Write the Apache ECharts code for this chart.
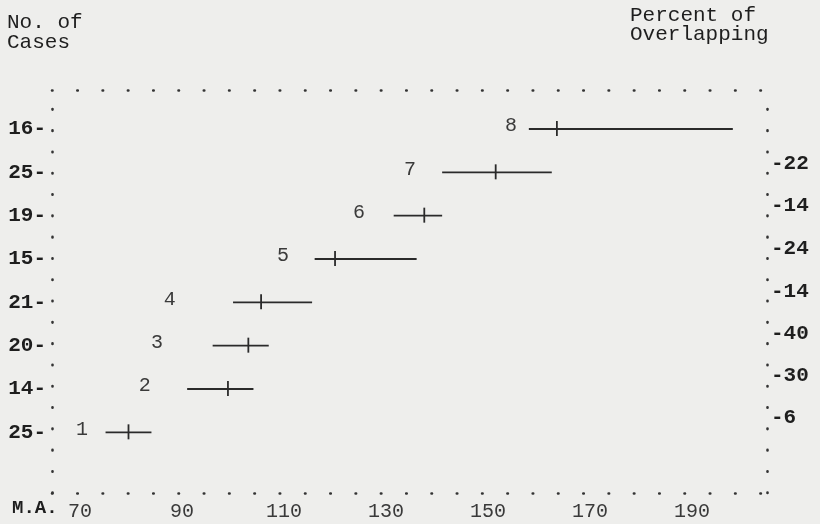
<!DOCTYPE html>
<html>
<head>
<meta charset="utf-8">
<title>Mental age ranges by grade</title>
<script src="https://cdn.jsdelivr.net/npm/echarts@6/dist/echarts.min.js"></script>
<style>
  html, body { margin: 0; padding: 0; background: #eeeeec; }
  #chart { width: 820px; height: 524px; }
</style>
</head>
<body>
<div id="chart"></div>
<script>
// grade rows, bottom to top
const grades = [1, 2, 3, 4, 5, 6, 7, 8];
const cases = [25, 14, 20, 21, 15, 19, 25, 16];
// mental age range (low, high) and mean per grade
const lowMA = [75, 91, 96, 100, 116, 131.5, 141, 158];
const highMA = [84, 104, 107, 115.5, 136, 141, 162.5, 198];
const meanMA = [79.5, 99, 103, 105.5, 120, 137.5, 151.5, 163.5];
// where the typed grade number sits (in M.A. units)
const gradeLabelMA = [70.4, 82.7, 85.1, 87.6, 109.8, 124.7, 134.7, 154.5];
// percent of overlapping between grade i and i+1
const overlap = [6, 30, 40, 14, 24, 14, 22];
const overlapAt = [1.33, 2.31, 3.28, 4.24, 5.24, 6.23, 7.2];
const maTicks = [70, 90, 110, 130, 150, 170, 190];

const font = '"Liberation Mono", "DejaVu Sans Mono", monospace';
const ink = '#1e1e1e';

const chart = echarts.init(document.getElementById('chart'));

const dotsH = { color: '#333', width: 2.6, type: [0.5, 24.8], cap: 'round' };
const dotsV = { color: '#333', width: 2.6, type: [0.5, 20.8], cap: 'round' };

const rows = grades.map((g, i) => [g, lowMA[i], highMA[i], meanMA[i], gradeLabelMA[i]]);

const option = {
  backgroundColor: '#eeeeec',
  animation: false,
  grid: { left: 52, right: 53, top: 90, bottom: 31 },
  xAxis: [
    {
      type: 'value', min: 64.5, max: 204.7, position: 'bottom',
      axisLine: { show: true, onZero: false, lineStyle: dotsH },
      axisTick: { show: false },
      splitLine: { show: false },
      axisLabel: {
        customValues: maTicks, margin: 9,
        fontFamily: font, fontSize: 20, color: '#3a3a3a'
      }
    },
    {
      type: 'value', min: 64.5, max: 204.7, position: 'top',
      axisLine: { show: true, onZero: false, lineStyle: dotsH },
      axisTick: { show: false }, axisLabel: { show: false }, splitLine: { show: false }
    }
  ],
  yAxis: [
    {
      type: 'value', min: -0.4, max: 8.9, position: 'left',
      axisLine: { show: true, onZero: false, lineStyle: dotsV },
      axisTick: { show: false }, splitLine: { show: false },
      axisLabel: {
        customValues: grades, margin: 6,
        fontFamily: font, fontSize: 21, fontWeight: 'bold', color: ink,
        formatter: v => cases[grades.indexOf(v)] + '-'
      }
    },
    {
      type: 'value', min: -0.4, max: 8.9, position: 'right',
      axisLine: { show: true, onZero: false, lineStyle: dotsV },
      axisTick: { show: false }, splitLine: { show: false },
      axisLabel: {
        customValues: overlapAt, margin: 4,
        fontFamily: font, fontSize: 21, fontWeight: 'bold', color: ink,
        formatter: v => '-' + overlap[overlapAt.indexOf(v)]
      }
    }
  ],
  graphic: [
    { type: 'text', left: 7, top: 12, style: { text: 'No. of\nCases', font: '21px ' + font, fill: ink, lineHeight: 20 } },
    { type: 'text', left: 630, top: 5, style: { text: 'Percent of\nOverlapping', font: '21px ' + font, fill: ink, lineHeight: 19 } },
    { type: 'text', left: 12, top: 499, style: { text: 'M.A.', font: 'bold 19px ' + font, fill: ink } }
  ],
  series: [
    {
      type: 'custom',
      xAxisIndex: 0, yAxisIndex: 0,
      encode: { x: [1, 2, 3], y: 0 },
      data: rows,
      renderItem: function (params, api) {
        const g = api.value(0);
        const a = api.coord([api.value(1), g]);
        const b = api.coord([api.value(2), g]);
        const c = api.coord([api.value(3), g]);
        const t = api.coord([api.value(4), g]);
        return {
          type: 'group',
          children: [
            { type: 'line', shape: { x1: a[0], y1: a[1], x2: b[0], y2: b[1] }, style: { stroke: '#2a2a2a', lineWidth: 1.8 } },
            { type: 'line', shape: { x1: c[0], y1: c[1] - 8, x2: c[0], y2: c[1] + 7 }, style: { stroke: '#2a2a2a', lineWidth: 1.8 } },
            { type: 'text', x: t[0], y: t[1] - 3, style: { text: String(g), font: '20px ' + font, fill: '#3a3a3a', align: 'center', verticalAlign: 'middle' } }
          ]
        };
      }
    }
  ]
};

chart.setOption(option);
</script>
</body>
</html>
